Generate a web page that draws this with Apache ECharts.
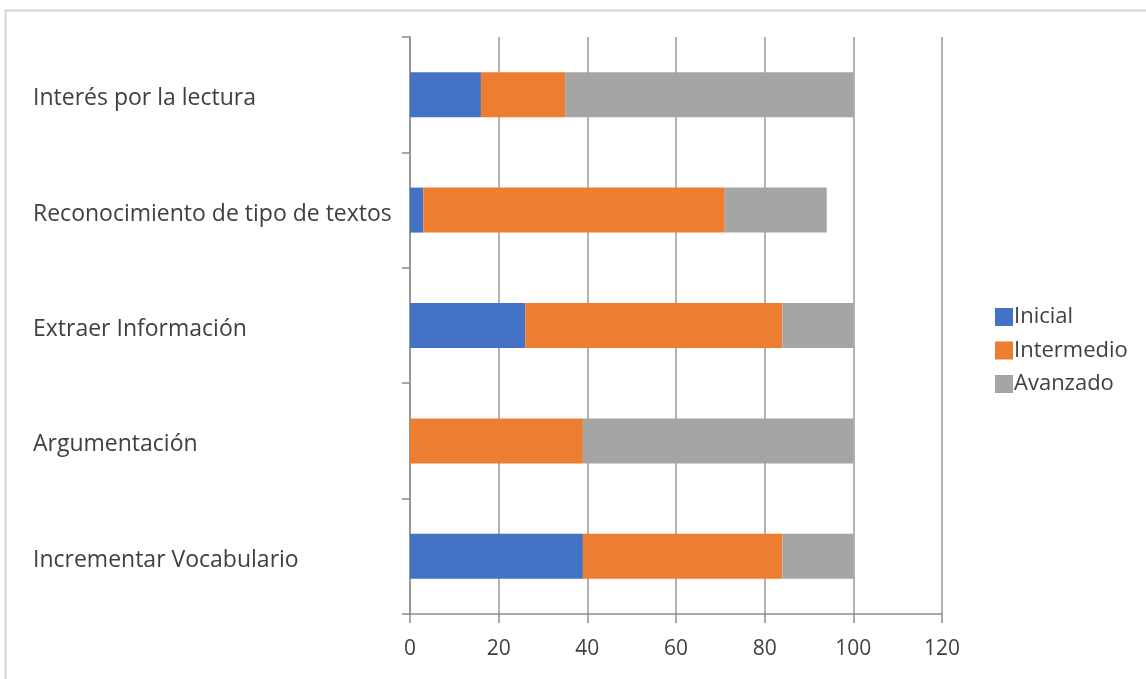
<!DOCTYPE html>
<html>
<head>
<meta charset="utf-8">
<script src="https://cdn.jsdelivr.net/npm/echarts@6/dist/echarts.min.js"></script>
<style>
html,body{margin:0;padding:0;background:#fff;}
#chart{width:1146px;height:679px;}
</style>
</head>
<body>
<div id="chart"></div>
<script>
const categories = ['Incrementar Vocabulario', 'Argumentación', 'Extraer Información', 'Reconocimiento de tipo de textos', 'Interés por la lectura'];
const seriesNames = ['Inicial', 'Intermedio', 'Avanzado'];
const inicial = [39, 0, 26, 3, 16];
const intermedio = [45, 39, 58, 68, 19];
const avanzado = [16, 61, 16, 23, 65];
const xTicks = { min: 0, max: 120, interval: 20 };
const colors = ['#4472C4', '#ED7D31', '#A5A5A5'];

const font = 'Open Sans';
const textColor = '#404040';
const chart = echarts.init(document.getElementById('chart'));
const values = [inicial, intermedio, avanzado];
chart.setOption({
  animation: false,
  graphic: [{
    type: 'rect', silent: true,
    shape: { x: 5.5, y: 10.5, width: 1300, height: 800 },
    style: { fill: 'none', stroke: '#d4d4d4', lineWidth: 2 }
  }],
  grid: { left: 410, right: 204, top: 37, bottom: 65, containLabel: false },
  legend: {
    orient: 'vertical', left: 990, top: 301,
    itemWidth: 18, itemHeight: 18, itemGap: 11.5, icon: 'rect',
    textStyle: { fontFamily: font, fontSize: 22, color: textColor, padding: [0, 0, 0, -4] },
    data: seriesNames
  },
  xAxis: {
    type: 'value', min: xTicks.min, max: xTicks.max, interval: xTicks.interval,
    axisLine: { show: true, lineStyle: { color: '#8c8c8c', width: 1.5 } },
    axisTick: { show: true, length: 9, lineStyle: { color: '#8c8c8c', width: 1.5 } },
    splitLine: { show: true, lineStyle: { color: '#9a9a9a', width: 1.5 } },
    axisLabel: { fontFamily: font, fontSize: 21, color: textColor, margin: 25 }
  },
  yAxis: {
    type: 'category', data: categories,
    axisLine: { show: true, lineStyle: { color: '#8c8c8c', width: 1.5 } },
    axisTick: { show: true, length: 8, inside: false, lineStyle: { color: '#8c8c8c', width: 1.5 } },
    axisLabel: {
      fontFamily: font, fontSize: 23, color: textColor, align: 'left', margin: 377,
      formatter: v => '{a|' + v + '}',
      rich: { a: { fontFamily: font, fontSize: 23, color: textColor, padding: [8, 0, 0, 0] } }
    }
  },
  series: seriesNames.map((name, i) => ({
    name, type: 'bar', stack: 'total', data: values[i],
    itemStyle: { color: colors[i] },
    barCategoryGap: '61%'
  }))
});
</script>
</body>
</html>
